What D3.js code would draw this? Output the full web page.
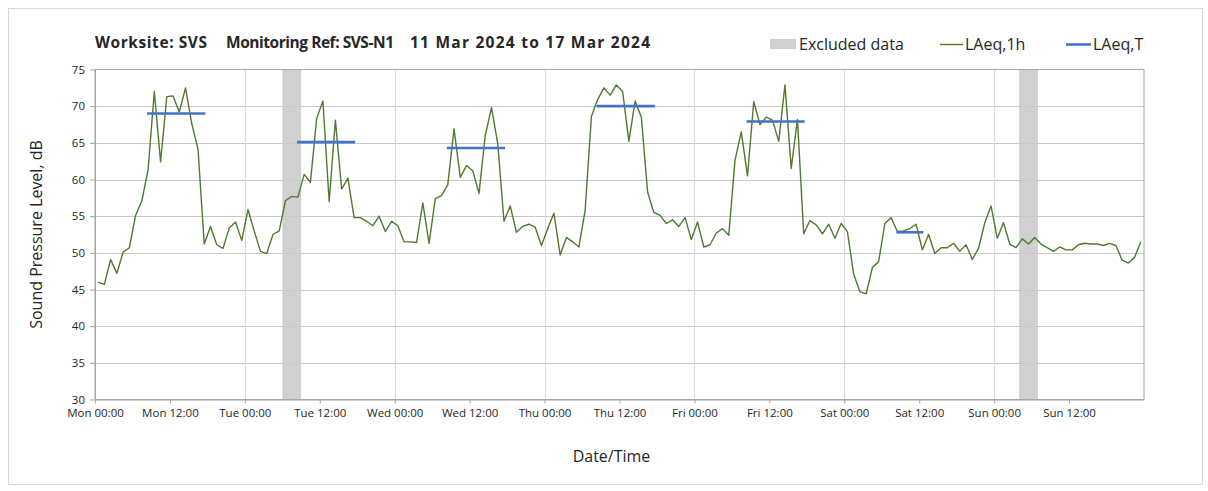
<!DOCTYPE html>
<html>
<head>
<meta charset="utf-8">
<script src="https://cdn.jsdelivr.net/npm/d3@7"></script>
<style>
	body { margin: 0; background: #fff; }
	svg text { font-family: "Open Sans", "Noto Sans", sans-serif; fill: #262626; }
</style>
</head>
<body>
<svg id="chart" width="1208" height="491"></svg>
<script>
// week starts Mon 11 Mar 2024 00:00
var startDate = new Date(2024, 2, 11, 0, 0, 0);

// hourly LAeq,1h values, one per hour from Mon 00:00
var laeq1h = [
	46.0, 45.7, 49.1, 47.2, 50.1, 50.7, 55.1, 57.1, 61.3, 72.0, 62.4, 71.3,
	71.4, 69.2, 72.5, 67.6, 64.1, 51.2, 53.6, 51.1, 50.6, 53.4, 54.2, 51.7,
	55.9, 53.0, 50.2, 49.9, 52.5, 53.0, 57.1, 57.7, 57.6, 60.7, 59.6, 68.3,
	70.7, 57.0, 68.1, 58.7, 60.2, 54.8, 54.8, 54.3, 53.7, 55.0, 52.9, 54.3,
	53.7, 51.5, 51.5, 51.4, 56.8, 51.3, 57.4, 57.8, 59.3, 66.9, 60.3, 61.9,
	61.2, 58.1, 66.0, 69.8, 64.9, 54.3, 56.4, 52.8, 53.6, 53.9, 53.5, 51.0,
	53.3, 55.4, 49.7, 52.1, 51.5, 50.8, 55.8, 68.6, 70.9, 72.5, 71.5, 72.9,
	72.0, 65.2, 70.7, 68.5, 58.3, 55.5, 55.1, 54.0, 54.5, 53.6, 54.8, 51.8,
	54.2, 50.8, 51.1, 52.7, 53.3, 52.4, 62.6, 66.5, 60.5, 70.6, 67.5, 68.5,
	68.1, 65.2, 72.9, 61.5, 68.2, 52.6, 54.4, 53.8, 52.6, 53.9, 52.0, 54.0,
	52.9, 47.1, 44.7, 44.4, 48.0, 48.8, 54.0, 54.8, 52.9, 53.0, 53.3, 53.9,
	50.4, 52.5, 49.9, 50.7, 50.7, 51.3, 50.2, 51.1, 49.1, 50.6, 54.1, 56.4,
	52.0, 54.1, 51.2, 50.7, 51.9, 51.2, 52.1, 51.2, 50.7, 50.2, 50.8, 50.4,
	50.4, 51.1, 51.3, 51.2, 51.2, 51.0, 51.3, 51.0, 49.0, 48.6, 49.4, 51.5
];

// LAeq,T periods (hours from start) and levels
var laeqTStart = [8, 32, 56, 80, 104, 128];
var laeqTEnd = [18, 42, 66, 90, 114, 133];
var laeqTValue = [69.0, 65.1, 64.3, 70.0, 67.9, 52.8];

// excluded data windows (hours from start)
var excludedStart = [30, 148];
var excludedEnd = [33, 151];

var yTicks = [30, 35, 40, 45, 50, 55, 60, 65, 70, 75];
var legendLabels = ["Excluded data", "LAeq,1h", "LAeq,T"];
var titleParts = ["Worksite: SVS", "Monitoring Ref: SVS-N1", "11 Mar 2024 to 17 Mar 2024"];

function hrs(h) { return new Date(startDate.getTime() + h * 3600 * 1000); }

var svg = d3.select("#chart");
var pLeft = 95, pRight = 1144, pTop = 69.5, pBottom = 399.5;

// outer frame
svg.append("rect")
	.attr("x", 8.5).attr("y", 8.5).attr("width", 1194).attr("height", 476)
	.attr("fill", "#fff").attr("stroke", "#d9d9d9").attr("stroke-width", 1);

var x = d3.scaleTime().domain([startDate, hrs(168)]).range([pLeft, pRight]);
var y = d3.scaleLinear().domain([30, 75]).range([pBottom, pTop]);

var plot = svg.append("g");

// excluded bands
plot.selectAll("rect.excl")
	.data(excludedStart)
	.enter()
	.append("rect")
	.attr("class", "excl")
	.attr("x", function(d) { return x(hrs(d)); })
	.attr("y", pTop)
	.attr("width", function(d, i) { return x(hrs(excludedEnd[i])) - x(hrs(d)); })
	.attr("height", pBottom - pTop)
	.attr("fill", "#d0d0d0");

// horizontal gridlines
plot.selectAll("line.hg")
	.data(yTicks.slice(1, -1))
	.enter()
	.append("line")
	.attr("x1", pLeft).attr("x2", pRight)
	.attr("y1", function(d) { return Math.round(y(d)) + 0.5; })
	.attr("y2", function(d) { return Math.round(y(d)) + 0.5; })
	.attr("stroke", "#c9c9c9").attr("stroke-width", 1.2);

// vertical gridlines at midnight
var days = d3.range(1, 7).map(function(d) { return hrs(d * 24); });
plot.selectAll("line.vg")
	.data(days)
	.enter()
	.append("line")
	.attr("x1", function(d) { return Math.round(x(d)) + 0.5; })
	.attr("x2", function(d) { return Math.round(x(d)) + 0.5; })
	.attr("y1", pTop).attr("y2", pBottom)
	.attr("stroke", "#dcdcdc").attr("stroke-width", 1.2);

// plot border
plot.append("rect")
	.attr("x", pLeft).attr("y", pTop).attr("width", pRight - pLeft).attr("height", pBottom - pTop)
	.attr("fill", "none").attr("stroke", "#a6a6a6").attr("stroke-width", 1);

// axes
var xTicks = d3.range(0, 168, 12).map(hrs);
var xAxis = d3.axisBottom(x)
	.tickValues(xTicks)
	.tickFormat(d3.timeFormat("%a %H:%M"))
	.tickSizeInner(4).tickSizeOuter(0).tickPadding(5);
var gx = svg.append("g").attr("transform", "translate(0," + pBottom + ")").call(xAxis);
gx.select(".domain").attr("stroke", "#a6a6a6");
gx.selectAll(".tick line").attr("stroke", "#a6a6a6");
gx.selectAll(".tick text").attr("font-size", 11.5).attr("fill", "#262626")
	.style("font-family", "'Open Sans', sans-serif");

var yAxis = d3.axisLeft(y).tickValues(yTicks).tickSizeInner(5).tickSizeOuter(0).tickPadding(5);
var gy = svg.append("g").attr("transform", "translate(" + pLeft + ",0)").call(yAxis);
gy.select(".domain").attr("stroke", "#a6a6a6");
gy.selectAll(".tick line").attr("stroke", "#a6a6a6");
gy.selectAll(".tick text").attr("font-size", 11.5).attr("fill", "#262626")
	.style("font-family", "'Open Sans', sans-serif");

// LAeq,1h line
var line = d3.line()
	.x(function(d, i) { return x(hrs(i + 0.5)); })
	.y(function(d) { return y(d); });
plot.append("path")
	.datum(laeq1h)
	.attr("d", line)
	.attr("fill", "none")
	.attr("stroke", "#4f7a30")
	.attr("stroke-width", 1.4)
	.attr("stroke-linejoin", "round");

// LAeq,T segments
plot.selectAll("line.lt")
	.data(laeqTValue)
	.enter()
	.append("line")
	.attr("x1", function(d, i) { return x(hrs(laeqTStart[i] + 0.5)) - 1; })
	.attr("x2", function(d, i) { return x(hrs(laeqTEnd[i] - 0.5)) + 1; })
	.attr("y1", function(d) { return y(d); })
	.attr("y2", function(d) { return y(d); })
	.attr("stroke", "#4472c4")
	.attr("stroke-width", 2.6);

// title
var titleX = [95, 226, 410];
var titleW = [112, 168, 240];
svg.selectAll("text.title")
	.data(titleParts)
	.enter()
	.append("text")
	.attr("class", "title")
	.attr("x", function(d, i) { return titleX[i]; })
	.attr("y", 48)
	.attr("font-size", 15.5)
	.attr("font-weight", "bold")
	.attr("textLength", function(d, i) { return titleW[i]; })
	.attr("lengthAdjust", "spacing")
	.attr("fill", "#1a1a1a")
	.text(function(d) { return d; });

// legend
var lg = svg.append("g");
lg.append("rect").attr("x", 770).attr("y", 39).attr("width", 26).attr("height", 10).attr("fill", "#d0d0d0");
lg.append("line").attr("x1", 940).attr("x2", 963).attr("y1", 44.5).attr("y2", 44.5)
	.attr("stroke", "#4f7a30").attr("stroke-width", 1.4);
lg.append("line").attr("x1", 1066).attr("x2", 1091).attr("y1", 44.5).attr("y2", 44.5)
	.attr("stroke", "#4472c4").attr("stroke-width", 2.6);
var legendX = [799, 965, 1093];
lg.selectAll("text")
	.data(legendLabels)
	.enter()
	.append("text")
	.attr("x", function(d, i) { return legendX[i]; })
	.attr("y", 50)
	.attr("font-size", 16)
	.text(function(d) { return d; });

// axis titles
svg.append("text")
	.attr("transform", "translate(42," + ((pTop + pBottom) / 2) + ") rotate(-90)")
	.attr("text-anchor", "middle")
	.attr("font-size", 16)
	.text("Sound Pressure Level, dB");

svg.append("text")
	.attr("x", (pLeft + pRight) / 2 - 8)
	.attr("y", 462)
	.attr("text-anchor", "middle")
	.attr("font-size", 16)
	.text("Date/Time");
</script>
</body>
</html>
